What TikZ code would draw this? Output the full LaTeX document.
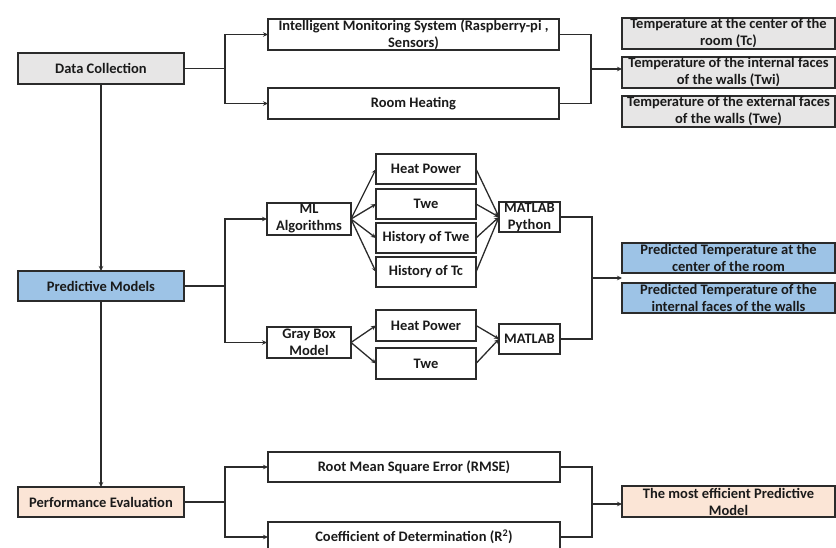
\documentclass[tikz,border=0pt]{standalone}
\usepackage{fontspec}
\setmainfont{Carlito}
\usetikzlibrary{arrows.meta}
\definecolor{grayfill}{HTML}{E7E6E6}
\definecolor{bluefill}{HTML}{9DC3E6}
\definecolor{peachfill}{HTML}{FBE5D6}
\definecolor{edge}{HTML}{2B2B2B}
\definecolor{ink}{HTML}{1A1A1A}
\begin{document}
\begin{tikzpicture}[x=1pt,y=-1pt,
  box/.style={draw=edge,line width=1.3pt,inner xsep=0pt,inner ysep=-6pt,outer sep=0pt,
    align=center,text=ink,font=\fontsize{14.5}{17}\selectfont\bfseries},
  ln/.style={draw=edge,line width=1.3pt},
  arr/.style={ln,-{Stealth[length=5pt,width=4.5pt]}}]
\useasboundingbox (0,0) rectangle (836,548);
\begin{scope}
\clip (0,0) rectangle (836,548);
% left column
\node[box,fill=grayfill,minimum width=166,minimum height=31] (dc) at (101,68.5) {Data Collection};
\node[box,fill=bluefill,minimum width=166,minimum height=30] (pm) at (101,286) {Predictive Models};
\node[box,fill=peachfill,minimum width=166,minimum height=30] (pe) at (101,502) {Performance Evaluation};
% top
\node[box,minimum width=291,minimum height=31] (ims) at (413.5,34.5) {Intelligent Monitoring System (Raspberry-pi ,\\ Sensors)};
\node[box,minimum width=291,minimum height=31] (rh) at (413.5,103.5) {Room Heating};
\node[box,fill=grayfill,minimum width=213,minimum height=31] (t1) at (728.5,33.5) {Temperature at the center of the\\ room (Tc)};
\node[box,fill=grayfill,minimum width=213,minimum height=31] (t2) at (728.5,72.5) {Temperature of the internal faces\\ of the walls (Twi)};
\node[box,fill=grayfill,minimum width=213,minimum height=31] (t3) at (728.5,111.5) {Temperature of the external faces\\ of the walls (Twe)};
% middle
\node[box,minimum width=84,minimum height=32] (ml) at (309,219) {ML\\ Algorithms};
\node[box,minimum width=84,minimum height=31] (gb) at (309,342.5) {Gray Box\\ Model};
\node[box,minimum width=100,minimum height=30] (hp1) at (426,169) {Heat Power};
\node[box,minimum width=100,minimum height=30] (tw1) at (426,204) {Twe};
\node[box,minimum width=100,minimum height=30] (ht) at (426,238) {History of Twe};
\node[box,minimum width=100,minimum height=30] (hc) at (426,272) {History of Tc};
\node[box,minimum width=100,minimum height=31] (hp2) at (426,325.5) {Heat Power};
\node[box,minimum width=100,minimum height=31] (tw2) at (426,363.5) {Twe};
\node[box,minimum width=61,minimum height=30] (mp) at (529.5,217) {MATLAB\\ Python};
\node[box,minimum width=61,minimum height=30] (mat) at (529.5,339) {MATLAB};
\node[box,fill=bluefill,minimum width=213,minimum height=30] (p1) at (728.5,258) {Predicted Temperature at the\\ center of the room};
\node[box,fill=bluefill,minimum width=213,minimum height=30] (p2) at (728.5,298) {Predicted Temperature of the\\ internal faces of the walls};
% bottom
\node[box,minimum width=292,minimum height=30] (rmse) at (414,467) {Root Mean Square Error (RMSE)};
\node[box,minimum width=292,minimum height=30] (r2) at (414,537) {Coefficient of Determination (R\textsuperscript{2})};
\node[box,fill=peachfill,minimum width=213,minimum height=31] (eff) at (728.5,501.5) {The most efficient Predictive\\ Model};
% junctions
\coordinate (j1) at (225,68.5);
\coordinate (j2) at (591,69);
\coordinate (j3) at (225,286);
\coordinate (j4) at (592,278);
\coordinate (j5) at (225,502);
\coordinate (j6) at (592,504);
% connectors
\draw[ln] (dc.east) -- (j1);
\draw[arr] (j1) |- (ims.west);
\draw[arr] (j1) |- (rh.west);
\draw[ln] (ims.east) -| (j2);
\draw[ln] (rh.east) -| (j2);
\draw[arr] (j2) -- (j2 -| t2.west);
\draw[arr] (dc.south) -- (pm.north);
\draw[arr] (pm.south) -- (pe.north);
\draw[ln] (pm.east) -- (j3);
\draw[arr] (j3) |- (ml.west);
\draw[arr] (j3) |- (gb.west);
\foreach \n in {hp1,tw1,ht,hc}{
  \draw[arr] (ml.east) -- (\n.west);
  \draw[arr] (\n.east) -- (mp.west);
}
\foreach \n in {hp2,tw2}{
  \draw[arr] (gb.east) -- (\n.west);
  \draw[arr] (\n.east) -- (mat.west);
}
\draw[ln] (mp.east) -| (j4);
\draw[ln] (mat.east) -| (j4);
\draw[arr] (j4) -- (j4 -| p1.west);
\draw[ln] (pe.east) -- (j5);
\draw[arr] (j5) |- (rmse.west);
\draw[arr] (j5) |- (r2.west);
\draw[ln] (rmse.east) -| (j6);
\draw[ln] (r2.east) -| (j6);
\draw[arr] (j6) -- (j6 -| eff.west);
\end{scope}
\end{tikzpicture}
\end{document}
